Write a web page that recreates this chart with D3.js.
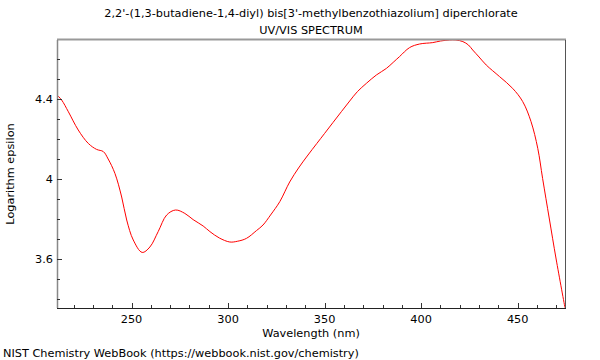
<!DOCTYPE html>
<html><head><meta charset="utf-8">
<script src="https://cdn.jsdelivr.net/npm/d3@7/dist/d3.min.js"></script>
<style>body{margin:0;background:#fff}svg{display:block}text{font-family:"DejaVu Sans",sans-serif;fill:#000}</style>
</head><body>
<script>
const wavelength = [211.4,213.8,217.3,222.4,227.6,231.9,235.4,237.9,241.4,244.9,247.5,250.9,255.5,259.5,263.8,268.2,272.8,277.6,281.9,287.1,290.6,295.5,300.9,305,309.5,314.7,318.1,322,326.8,331.9,336.5,341,346,350,354.3,358.7,363,367,371.6,376.8,382,385.5,388.8,394,399.2,406,410,414.7,418,421.6,424.5,426.7,430,433.7,440.6,447.4,452.6,456.9,460.4,462.9,466.4,469.9,474.5];
const logEps = [4.42,4.395,4.336,4.245,4.178,4.148,4.137,4.10,4.028,3.91,3.795,3.695,3.633,3.66,3.737,3.82,3.845,3.828,3.797,3.765,3.737,3.705,3.685,3.689,3.703,3.742,3.77,3.82,3.887,3.985,4.055,4.115,4.178,4.228,4.282,4.337,4.39,4.437,4.478,4.52,4.553,4.583,4.612,4.657,4.675,4.682,4.69,4.695,4.695,4.687,4.67,4.645,4.61,4.57,4.512,4.453,4.387,4.287,4.153,4.003,3.80,3.60,3.356];
const xTicks = [250,300,350,400,450];
const yTicks = [3.6,4,4.4];
const titleLines = ["2,2'-(1,3-butadiene-1,4-diyl) bis[3'-methylbenzothiazolium] diperchlorate","UV/VIS SPECTRUM"];

const W=600,H=360, L=57,R=565,T=40,B=308, FS=11.3;
const svg=d3.select("body").append("svg").attr("width",W).attr("height",H);
const x=d3.scaleLinear().domain([211.4,474.5]).range([L,R]);
const y=d3.scaleLinear().domain([3.355,4.695]).range([B,T]);

// curve
const data=wavelength.map((w,i)=>[w,logEps[i]]);
svg.append("defs").append("clipPath").attr("id","c").append("rect").attr("x",L).attr("y",T).attr("width",R-L).attr("height",B-T+1);
svg.append("path").datum(data).attr("clip-path","url(#c)")
  .attr("d",d3.line().x(d=>x(d[0])).y(d=>y(d[1])).curve(d3.curveCatmullRom.alpha(0.5)))
  .attr("fill","none").attr("stroke","#ff0000").attr("stroke-width",1);

// frame
svg.append("line").attr("x1",L).attr("x2",R+1).attr("y1",T-0.5).attr("y2",T-0.5).attr("stroke","#999").attr("stroke-width",2);
svg.append("line").attr("x1",L+0.5).attr("x2",L+0.5).attr("y1",T).attr("y2",B).attr("stroke","#888").attr("stroke-width",1.5);
svg.append("line").attr("x1",R+0.5).attr("x2",R+0.5).attr("y1",T).attr("y2",B).attr("stroke","#555").attr("stroke-width",1);
svg.append("line").attr("x1",L).attr("x2",R+1).attr("y1",B+0.5).attr("y2",B+0.5).attr("stroke","#222").attr("stroke-width",1);

// x axis ticks (inside)
const xMinor=d3.range(220,475,10);
const gx=svg.append("g");
gx.selectAll("line").data(xMinor).join("line")
  .attr("x1",d=>Math.round(x(d))+0.5).attr("x2",d=>Math.round(x(d))+0.5)
  .attr("y1",B).attr("y2",d=>xTicks.includes(d)?B-5:B-3).attr("stroke","#333");
gx.selectAll("text").data(xTicks).join("text")
  .attr("x",d=>x(d)).attr("y",B+15).attr("text-anchor","middle").attr("font-size",FS).text(d=>d);

// y axis ticks
const yMinor=d3.range(34,47).map(v=>v/10);
const gy=svg.append("g");
gy.selectAll("line").data(yMinor).join("line")
  .attr("x1",L).attr("x2",d=>yTicks.some(t=>Math.abs(t-d)<1e-6)?L+5:L+3)
  .attr("y1",d=>Math.round(y(d))+0.5).attr("y2",d=>Math.round(y(d))+0.5).attr("stroke","#333");
gy.selectAll("text").data(yTicks).join("text")
  .attr("x",L-4).attr("y",d=>y(d)+4).attr("text-anchor","end").attr("font-size",FS).text(d=>d);

// titles
svg.selectAll("text.t").data(titleLines).join("text").attr("class","t")
  .attr("x",311).attr("y",(d,i)=>17+i*17).attr("text-anchor","middle").attr("font-size",FS).text(d=>d);
svg.append("text").attr("x",311).attr("y",337).attr("text-anchor","middle").attr("font-size",FS).text("Wavelength (nm)");
svg.append("text").attr("transform","translate(14,174) rotate(-90)").attr("text-anchor","middle").attr("font-size",FS).text("Logarithm epsilon");
svg.append("text").attr("x",3).attr("y",357).attr("font-size",FS).text("NIST Chemistry WebBook (https://webbook.nist.gov/chemistry)");
</script>
</body></html>
